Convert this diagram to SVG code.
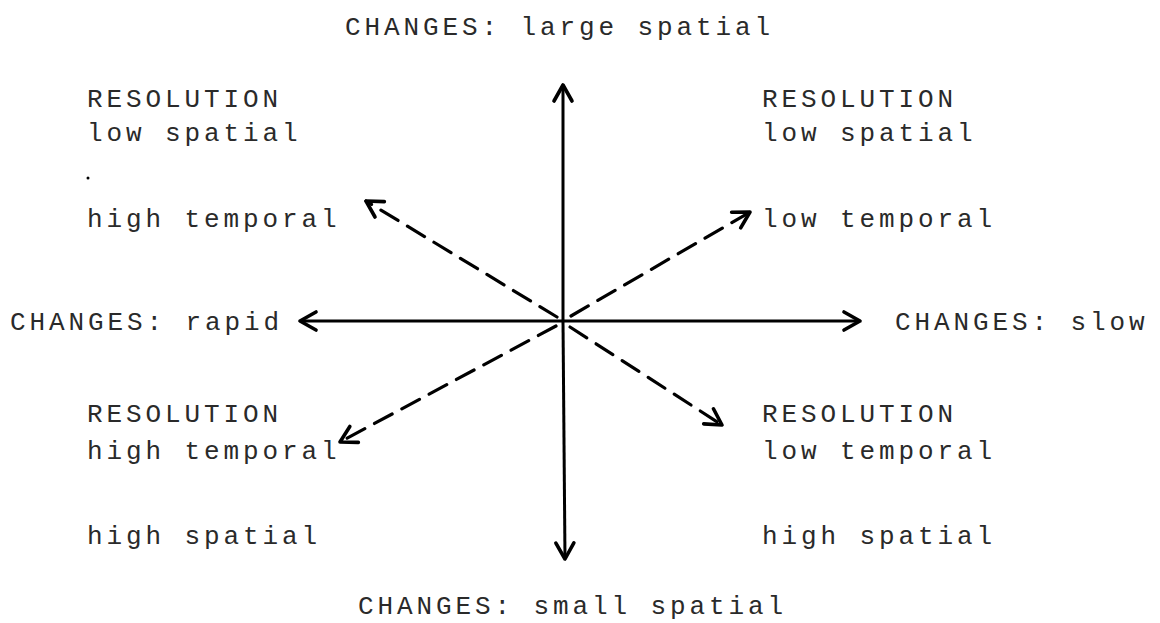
<svg xmlns="http://www.w3.org/2000/svg" width="1160" height="623" viewBox="0 0 1160 623">
<defs>
<style>
.t{font-family:"Liberation Mono","DejaVu Sans Mono",monospace;font-size:26px;fill:#2a2a2a;letter-spacing:3.9px}
.ax{stroke:#000;stroke-width:3;fill:none}
.dash{stroke:#000;stroke-width:3.2;fill:none;stroke-dasharray:20 11;stroke-linecap:round}
</style>
<marker id="ah" viewBox="-20 -12 24 24" markerWidth="24" markerHeight="24" refX="0" refY="0" orient="auto" markerUnits="userSpaceOnUse">
<path d="M -16 -9 L 0 0 L -16 9" fill="none" stroke="#000" stroke-width="3.6" stroke-linecap="round" stroke-linejoin="round"/>
</marker>
</defs>
<rect width="1160" height="623" fill="#fff"/>
<g id="connectors">
<line class="ax" x1="563" y1="321" x2="563" y2="85" marker-end="url(#ah)"/>
<line class="ax" x1="563" y1="321" x2="565" y2="559" marker-end="url(#ah)"/>
<line class="ax" x1="563" y1="321" x2="300" y2="321" marker-end="url(#ah)"/>
<line class="ax" x1="563" y1="321" x2="860" y2="321" marker-end="url(#ah)"/>
<line class="dash" x1="557" y1="317" x2="366" y2="201" marker-end="url(#ah)"/>
<line class="dash" x1="571" y1="316" x2="750" y2="212" marker-end="url(#ah)"/>
<line class="dash" x1="556" y1="326" x2="340" y2="442" marker-end="url(#ah)"/>
<line class="dash" x1="570" y1="327" x2="722" y2="425" marker-end="url(#ah)"/>
</g>
<g id="top"><text class="t" x="345" y="35">CHANGES: large spatial</text></g>
<g id="bottom"><text class="t" x="358" y="614">CHANGES: small spatial</text></g>
<g id="left"><text class="t" x="10" y="330">CHANGES: rapid</text></g>
<g id="right"><text class="t" x="895" y="330">CHANGES: slow</text></g>
<g id="upper-left">
<text class="t" x="87" y="107">RESOLUTION</text>
<text class="t" x="87" y="141">low spatial</text>
<circle cx="88" cy="178" r="1.5" fill="#000"/>
<text class="t" x="87" y="227">high temporal</text>
</g>
<g id="upper-right">
<text class="t" x="762" y="107">RESOLUTION</text>
<text class="t" x="762" y="141">low spatial</text>
<text class="t" x="762" y="227">low temporal</text>
</g>
<g id="lower-left">
<text class="t" x="87" y="422">RESOLUTION</text>
<text class="t" x="87" y="459">high temporal</text>
<text class="t" x="87" y="544">high spatial</text>
</g>
<g id="lower-right">
<text class="t" x="762" y="422">RESOLUTION</text>
<text class="t" x="762" y="459">low temporal</text>
<text class="t" x="762" y="544">high spatial</text>
</g>
</svg>
